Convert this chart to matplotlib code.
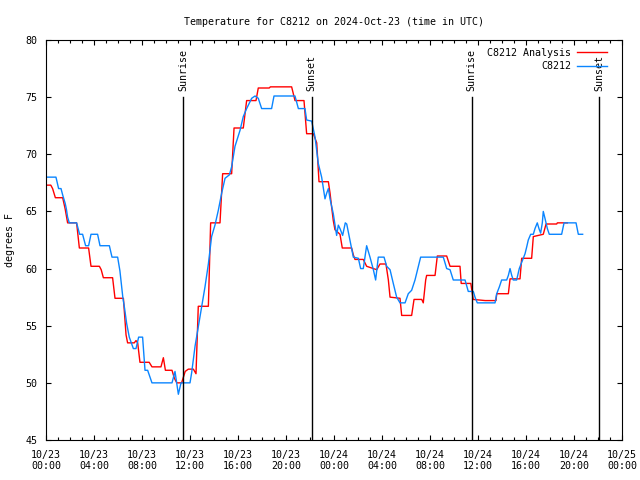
import numpy as np
import matplotlib
matplotlib.use("Agg")
import matplotlib.pyplot as plt

plt.rcParams['font.family'] = ['DejaVu Sans Mono']
plt.rcParams['font.size'] = 7.2

# hours since 2024-10-23 00:00 UTC, temperature in F
analysis_hours = [0, 0.4, 0.55, 0.78, 1.39, 1.6, 1.8, 2.55, 2.78, 3.55, 3.75, 4.45, 4.6, 4.78, 5.55,
                  5.75, 6.45, 6.67, 6.8, 7.36, 7.5, 7.64, 7.83, 8.6, 8.83, 9.58, 9.78, 9.95, 10.5, 10.7,
                  10.9, 11.3, 11.6, 11.86, 12.28, 12.5, 12.69, 13.53, 13.72, 14.5, 14.72, 15.47, 15.67,
                  16.44, 16.72, 17.5, 17.69, 18.6, 18.7, 20.47, 20.75, 21.5, 21.72, 22.28, 22.56, 22.75,
                  23.53, 23.67, 23.8, 23.94, 24.08, 24.5, 24.69, 25.47, 25.61, 25.75, 26.44, 26.72, 27.0,
                  27.56, 27.83, 28.33, 28.53, 28.67, 29.5, 29.64, 30.47, 30.67, 31.31, 31.44, 31.64, 31.72,
                  32.42, 32.61, 33.39, 33.67, 34.5, 34.6, 35.4, 35.6, 36.6, 37.5, 37.56, 38.53, 38.67,
                  39.5, 39.64, 40.47, 40.61, 41.44, 41.67, 42.56, 42.61, 43.44]
analysis_temps = [67.3, 67.3, 67.0, 66.2, 66.2, 65.2, 64.0, 64.0, 61.8, 61.8, 60.2, 60.2, 59.9, 59.2, 59.2,
                  57.4, 57.4, 54.2, 53.5, 53.5, 53.7, 53.5, 51.8, 51.8, 51.4, 51.4, 52.2, 51.1, 51.1, 50.4,
                  50.0, 50.0, 51.0, 51.2, 51.2, 50.8, 56.7, 56.7, 64.0, 64.0, 68.3, 68.3, 72.3,
                  72.3, 74.7, 74.7, 75.8, 75.8, 75.9, 75.9, 74.7, 74.7, 71.8, 71.8, 71.0, 67.6,
                  67.6, 66.6, 65.4, 64.2, 63.4, 63.0, 61.8, 61.8, 61.2, 60.8, 60.8, 60.2, 60.1,
                  59.9, 60.4, 60.4, 59.0, 57.5, 57.4, 55.9, 55.9, 57.3, 57.3, 57.0, 59.0, 59.4,
                  59.4, 61.1, 61.1, 60.2, 60.2, 58.7, 58.7, 57.3, 57.2, 57.2, 57.8, 57.8, 59.1,
                  59.1, 60.9, 60.9, 62.8, 63.0, 63.9, 63.9, 64.0, 64.0]

obs_hours = [0, 0.83, 1.05, 1.25, 1.4, 1.6, 1.7, 1.8, 1.94, 2.55, 2.8, 3.05, 3.3, 3.55, 3.75, 4.3, 4.5,
             5.28, 5.5, 5.97, 6.16, 6.4, 6.55, 6.72, 6.94, 7.28, 7.5, 7.72, 8.05, 8.25, 8.47, 8.83, 10.5,
             10.75, 11.03, 11.25, 12.0, 12.14, 12.42, 12.69, 12.97, 13.25, 13.53, 13.8, 14.08, 14.36,
             14.64, 14.92, 15.28, 15.47, 15.75, 16.17, 16.44, 16.72, 17.14, 17.42, 17.69, 17.97, 18.8,
             19.0, 20.75, 21.03, 21.58, 21.72, 22.14, 22.42, 22.69, 22.97, 23.25, 23.39, 23.53, 23.67,
             23.94, 24.22, 24.36, 24.5, 24.72, 24.94, 25.06, 25.33, 25.61, 26.03, 26.22, 26.44, 26.72,
             27.0, 27.28, 27.47, 27.69, 28.17, 28.39, 28.67, 28.94, 29.22, 29.5, 29.92, 30.19, 30.47,
             30.75, 31.03, 31.22, 33.11, 33.39, 33.67, 33.94, 34.92, 35.19, 35.61, 35.75, 35.94, 37.42,
             37.56, 37.78, 37.97, 38.39, 38.53, 38.67, 38.81, 38.94, 39.22, 39.44, 39.72, 39.92, 40.06,
             40.19, 40.39, 40.61, 40.75, 40.94, 41.08, 41.22, 41.36, 41.44, 41.58, 41.78, 41.94, 42.97,
             43.17, 44.17, 44.36, 44.72]
obs_temps = [68.0, 68.0, 67.0, 67.0, 66.4, 65.7, 65.2, 64.5, 64.0, 64.0, 63.0, 63.0, 62.0, 62.0, 63.0, 63.0, 62.0,
             62.0, 61.0, 61.0, 59.8, 57.5, 56.5, 55.2, 54.0, 53.0, 53.0, 54.0, 54.0, 51.1, 51.1, 50.0, 50.0,
             51.0, 49.0, 50.0, 50.0, 50.9, 53.2, 54.9, 56.7, 58.4, 60.4, 62.8, 63.8, 65.1,
             66.6, 67.9, 68.2, 68.9, 70.7, 72.1, 73.3, 74.0, 74.9, 75.1, 74.9, 74.0, 74.0,
             75.1, 75.1, 74.0, 74.0, 73.0, 72.9, 71.5, 69.2, 68.0, 66.1, 66.6, 67.0, 66.1,
             64.8, 62.9, 63.8, 63.5, 62.9, 64.0, 63.9, 62.5, 61.0, 60.9, 60.0, 60.0, 62.0,
             61.0, 59.9, 59.0, 61.0, 61.0, 60.2, 59.9, 58.7, 57.5, 57.0, 57.0, 57.8, 58.1,
             59.0, 60.2, 61.0, 61.0, 60.0, 59.9, 59.0, 59.0, 58.0, 58.0, 57.5, 57.0, 57.0,
             57.8, 58.4, 59.0, 59.0, 59.4, 60.0, 59.4, 59.0, 59.0, 60.0, 60.75, 61.3, 61.9,
             62.5, 63.0, 63.0, 63.5, 64.0, 63.5, 63.1, 64.0, 65.0, 64.4, 63.5, 63.0, 63.0,
             64.0, 64.0, 63.0, 63.0]

sun_hours = [11.44, 22.14, 35.47, 46.1]
sun_labels = ["Sunrise", "Sunset", "Sunrise", "Sunset"]

tick_hours = list(range(0, 49, 4))
tick_labels = ["10/23\n00:00", "10/23\n04:00", "10/23\n08:00", "10/23\n12:00", "10/23\n16:00",
               "10/23\n20:00", "10/24\n00:00", "10/24\n04:00", "10/24\n08:00", "10/24\n12:00",
               "10/24\n16:00", "10/24\n20:00", "10/25\n00:00"]

fig = plt.figure(figsize=(6.4, 4.8), dpi=100)
ax = fig.add_axes([46 / 640, 40 / 480, 576 / 640, 400 / 480])

ax.plot(analysis_hours, analysis_temps, color='red', lw=1.0, label="C8212 Analysis")
ax.plot(obs_hours, obs_temps, color='#0a85ff', lw=1.0, label="C8212")

for h, lab in zip(sun_hours, sun_labels):
    ax.plot([h, h], [45, 75], color='black', lw=1.0)
    ax.text(h, 75.5, lab, rotation=90, ha='center', va='bottom')

ax.set_xlim(0, 48)
ax.set_ylim(45, 80)
ax.set_xticks(tick_hours)
ax.set_xticklabels(tick_labels)
ax.set_xticks(range(0, 49), minor=True)
ax.set_yticks(range(45, 81, 5))
ax.tick_params(which='both', direction='in', top=True, right=True, labelsize=7.2)
ax.tick_params(which='major', length=3.6, width=0.8)
ax.tick_params(which='minor', length=2.0, width=0.8)
ax.tick_params(axis='x', pad=7)
ax.tick_params(axis='y', pad=6)

ax.set_title("Temperature for C8212 on 2024-Oct-23 (time in UTC)", fontsize=7.2, pad=11)
ax.set_ylabel("degrees F", fontsize=7.2, labelpad=8)

leg = ax.legend(loc='upper right', frameon=False, markerfirst=False, fontsize=7.2,
                handlelength=3.0, handletextpad=0.6, labelspacing=0.35,
                bbox_to_anchor=(0.985, 0.995), borderaxespad=0.2)

fig.savefig("out.png", dpi=100)
